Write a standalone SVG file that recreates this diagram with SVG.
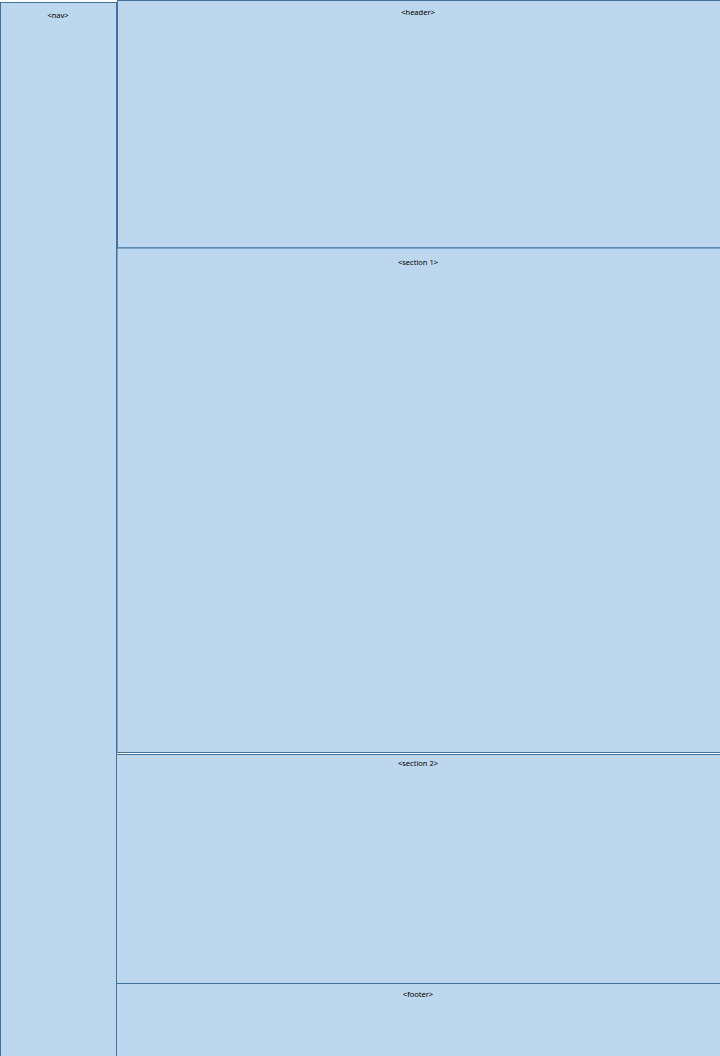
<svg xmlns="http://www.w3.org/2000/svg" width="720" height="1056" viewBox="0 0 720 1056">
<style>
.box{fill:#bdd7ee;stroke:#41719c;stroke-width:1}
.lbl{font-family:"Noto Sans","Open Sans",sans-serif;font-size:7.5px;fill:#000;text-anchor:middle}
</style>
<rect width="720" height="1056" fill="#ffffff"/>
<g id="nav"><rect class="box" x="0.5" y="2.5" width="116" height="1060"/><text class="lbl" x="58" y="18">&lt;nav&gt;</text></g>
<g id="header"><rect class="box" x="117.5" y="0.5" width="610" height="247.5"/><text class="lbl" x="418" y="15">&lt;header&gt;</text></g>
<g id="section1"><rect class="box" x="117" y="248" width="610" height="504.5"/><text class="lbl" x="418" y="265">&lt;section 1&gt;</text></g>
<g id="section2"><rect class="box" x="116.5" y="754.5" width="610" height="229"/><text class="lbl" x="418" y="766">&lt;section 2&gt;</text></g>
<g id="footer"><rect class="box" x="116.5" y="983.5" width="610" height="80"/><text class="lbl" x="418" y="997">&lt;footer&gt;</text></g>
<g id="connectors"></g>
</svg>
